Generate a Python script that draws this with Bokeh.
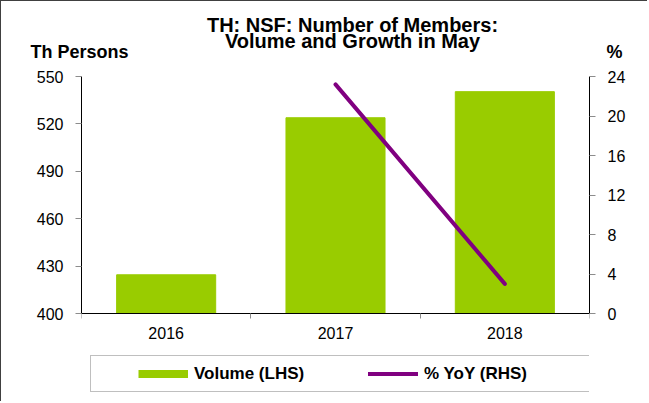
from bokeh.plotting import figure
from bokeh.models import (Range1d, LinearAxis, FixedTicker, Legend, LegendItem,
                          Label, ColumnDataSource)
from bokeh.core.properties import value
from bokeh.embed import file_html
from bokeh.resources import INLINE

# ---- data ----
years = ["2016", "2017", "2018"]
volume = [424.5, 523.9, 540.4]          # Th persons (LHS)
yoy = [float("nan"), 23.2, 3.0]          # % YoY (RHS)
left_ticks = [400, 430, 460, 490, 520, 550]
right_ticks = [0, 4, 8, 12, 16, 20, 24]

title_lines = ["TH: NSF: Number of Members:", "Volume and Growth in May"]
left_unit = "Th Persons"
right_unit = "%"
legend_labels = ["Volume (LHS)", "% YoY (RHS)"]

GREEN = "#99CC00"
PURPLE = "#800080"
TICK = "#8c8c8c"
FONT = "Liberation Sans"

# ---- layout: the frame reaches down to the legend; the chart area is its top part ----
CHART_H = 237      # px used by the value axes
FRAME_H = 320      # px of the whole frame

n = len(years)
xpos = [i + 0.5 for i in range(n)]
src = ColumnDataSource(dict(x=xpos, vol=volume, yoy=yoy, year=years))

lo, hi = left_ticks[0], left_ticks[-1]
lo_ext = hi - (hi - lo) * FRAME_H / CHART_H
rlo, rhi = right_ticks[0], right_ticks[-1]
rlo_ext = rhi - (rhi - rlo) * FRAME_H / CHART_H

p = figure(frame_width=508, frame_height=FRAME_H,
           min_border_left=80, min_border_right=58,
           min_border_top=75, min_border_bottom=5,
           x_range=Range1d(0, n), y_range=Range1d(lo_ext, hi),
           output_backend="svg", toolbar_location=None, tools="")
p.styles = {"border-top": "1px solid #404040", "border-left": "1px solid #404040"}
p.outline_line_color = None
p.xgrid.visible = False
p.ygrid.visible = False
p.background_fill_color = "white"
p.border_fill_color = "white"

# x axis drawn at the 400 level, ticks at category boundaries
xa = p.xaxis[0]
xa.fixed_location = lo
xa.ticker = FixedTicker(ticks=[], minor_ticks=list(range(n + 1)))
xa.major_label_standoff = 0
xa.major_tick_line_color = None
xa.major_tick_out = 0
xa.major_tick_in = 0
xa.minor_tick_out = 5
xa.minor_tick_in = 0
xa.minor_tick_line_color = TICK
xa.axis_line_color = "black"

# category labels under the axis
p.text(x="x", y=lo, text="year", source=src, y_offset=13,
       text_align="center", text_baseline="top",
       text_font=value(FONT), text_font_size=value("16px"), text_color="black")

# left y axis
ya = p.yaxis[0]
ya.ticker = FixedTicker(ticks=left_ticks)
ya.bounds = (lo, hi)

# right y axis
p.extra_y_ranges = {"pct": Range1d(rlo_ext, rhi)}
ra = LinearAxis(y_range_name="pct", ticker=FixedTicker(ticks=right_ticks),
                bounds=(rlo, rhi))
p.add_layout(ra, "right")

for ax in (ya, ra):
    ax.major_tick_out = 6
    ax.major_tick_in = 0
    ax.major_tick_line_color = TICK
    ax.minor_tick_line_color = None
    ax.axis_line_color = "black"
    ax.major_label_standoff = 12
    ax.major_label_text_font = FONT
    ax.major_label_text_font_size = "16px"
    ax.major_label_text_color = "black"

# marks
bars = p.vbar(x="x", top="vol", bottom=lo, width=0.585,
              source=src, fill_color=GREEN, line_color=GREEN)
line = p.line(x="x", y="yoy", source=src, y_range_name="pct",
              line_color=PURPLE, line_width=4, line_cap="round")

# legend key for the bars: a thick flat swatch (renderer draws nothing on the plot)
vol_key = p.line(x=[float("nan")], y=[float("nan")], line_color=GREEN, line_width=8)

leg = Legend(items=[LegendItem(label=legend_labels[0], renderers=[vol_key]),
                    LegendItem(label=legend_labels[1], renderers=[line])],
             location=(9, 4), orientation="horizontal",
             title=" ", title_location="left", title_standoff=46,
             title_text_font_size="1px",
             padding=0, margin=0, spacing=8,
             glyph_width=50, glyph_height=35, label_width=166, label_height=35,
             label_standoff=6,
             label_text_font=FONT, label_text_font_size="17px",
             label_text_font_style="bold", label_text_color="black",
             border_line_color="#808080", border_line_width=1,
             background_fill_color="white")
p.add_layout(leg)

# title and axis units (outside the frame, so in side panels)
for txt, off in zip(title_lines, [52, 36]):
    p.add_layout(Label(x=n / 2, y=hi, x_offset=17, y_offset=off, text=txt,
                       text_align="center", text_baseline="alphabetic",
                       text_font=FONT, text_font_size="20px",
                       text_font_style="bold", text_color="black"), "above")
p.add_layout(Label(x=0, y=hi, x_offset=-51, y_offset=25, text=left_unit,
                   text_align="left", text_baseline="alphabetic",
                   text_font=FONT, text_font_size="18px",
                   text_font_style="bold", text_color="black"), "above")
p.add_layout(Label(x=n, y=hi, x_offset=17, y_offset=25, text=right_unit,
                   text_align="left", text_baseline="alphabetic",
                   text_font=FONT, text_font_size="18px",
                   text_font_style="bold", text_color="black"), "right")

open("out.html", "w").write(file_html(p, INLINE))
